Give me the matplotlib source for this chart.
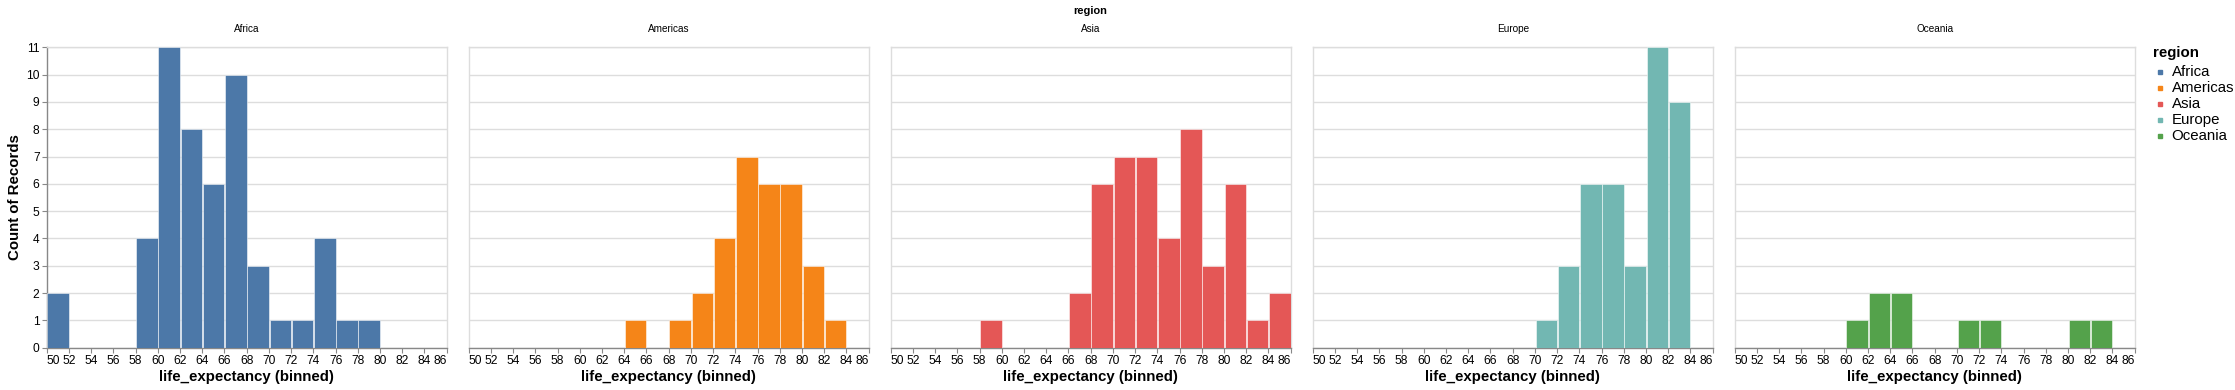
import matplotlib
matplotlib.use("Agg")
import matplotlib.pyplot as plt
import numpy as np

plt.rcParams['font.family'] = ['Liberation Sans', 'DejaVu Sans']

regions = ["Africa", "Americas", "Asia", "Europe", "Oceania"]
colors = ["#4c78a8", "#f58518", "#e45756", "#72b7b2", "#54a24b"]
bin_starts = list(range(50, 86, 2))  # 50..84

africa   = [2, 0, 0, 0, 4, 11, 8, 6, 10, 3, 1, 1, 4, 1, 1, 0, 0, 0]
americas = [0, 0, 0, 0, 0, 0, 0, 1, 0, 1, 2, 4, 7, 6, 6, 3, 1, 0]
asia     = [0, 0, 0, 0, 1, 0, 0, 0, 2, 6, 7, 7, 4, 8, 3, 6, 1, 2]
europe   = [0, 0, 0, 0, 0, 0, 0, 0, 0, 0, 1, 3, 6, 6, 3, 11, 9, 0]
oceania  = [0, 0, 0, 0, 0, 1, 2, 2, 0, 0, 1, 1, 0, 0, 0, 1, 1, 0]
counts = [africa, americas, asia, europe, oceania]

x_ticks = list(range(50, 87, 2))
y_ticks = list(range(0, 12))

W, H = 2235, 390
fig = plt.figure(figsize=(W / 100, H / 100), dpi=100)

def px(v):
    return v * 0.72

plot_left0 = 46.7
plot_w = 400
step = 422
top = 47.3
bottom = 347.7

grid_c = "#dddddd"
axis_c = "#888888"

for i, (reg, col, cnt) in enumerate(zip(regions, colors, counts)):
    left = plot_left0 + step * i
    ax = fig.add_axes([left / W, (H - bottom) / H, plot_w / W, (bottom - top) / H])
    xs = [b for b, c in zip(bin_starts, cnt) if c > 0]
    hs = [c for c in cnt if c > 0]
    ax.bar(np.array(xs) + 0.06, hs, width=1.94, align='edge', color=col,
           edgecolor=(1, 1, 1, 0.6), linewidth=0.6, zorder=3)
    ax.set_xlim(50, 86)
    ax.set_ylim(0, 11)
    ax.set_yticks(y_ticks)
    ax.grid(axis='y', color=grid_c, linewidth=1, zorder=0)
    ax.set_axisbelow(True)
    for s in ['top', 'right', 'left']:
        ax.spines[s].set_color(grid_c)
        ax.spines[s].set_linewidth(1)
    ax.spines['bottom'].set_color(axis_c)
    ax.spines['bottom'].set_linewidth(1)
    ax.set_xticks(x_ticks)
    ax.set_xticklabels([str(t) for t in x_ticks], fontsize=px(12))
    lbls = ax.get_xticklabels()
    lbls[0].set_ha('left')
    lbls[-1].set_ha('right')
    ax.tick_params(axis='x', length=5 * 0.72, width=0.8, color=axis_c, pad=2, labelcolor='#000000')
    if i == 0:
        ax.tick_params(axis='y', length=5 * 0.72, width=0.8, color=axis_c, pad=1.5,
                       labelsize=px(12), labelcolor='#000000')
        ax.spines['left'].set_color(axis_c)
        ax.set_ylabel("Count of Records", fontsize=px(15), fontweight='bold', labelpad=3)
    else:
        ax.tick_params(axis='y', length=0, labelleft=False)
    ax.set_xlabel("life_expectancy (binned)", fontsize=px(15), fontweight='bold', labelpad=2)
    ax.set_title(reg, fontsize=px(10), pad=11)

# Facet header title
fig.text(1090.5 / W, 1 - 10.7 / H, "region", ha='center', va='center',
         fontsize=px(11), fontweight='bold')

# Legend
lx = 2153
fig.text(lx / W, 1 - 53 / H, "region", ha='left', va='center', fontsize=px(15), fontweight='bold')
for j, (reg, col) in enumerate(zip(regions, colors)):
    yy = 72 + 16 * j
    fig.patches.append(plt.Rectangle(((2160 - 2) / W, 1 - (yy + 2) / H), 4 / W, 4 / H,
                                     transform=fig.transFigure, color=col, figure=fig))
    fig.text(2171.5 / W, 1 - yy / H, reg, ha='left', va='center', fontsize=px(15))

fig.savefig("out.png", dpi=100, facecolor='white')
